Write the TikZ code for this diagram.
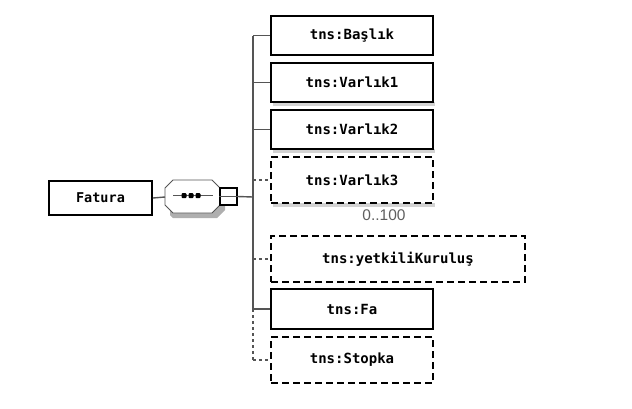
\documentclass[tikz,border=0pt]{standalone}
\usepackage{fontspec}
\setmonofont{DejaVu Sans Mono}
\setsansfont{Liberation Sans}
\definecolor{conn}{RGB}{85,85,85}
\definecolor{shad}{RGB}{175,175,175}
\definecolor{lbl}{RGB}{95,95,95}
\begin{document}
\begin{tikzpicture}[x=1pt,y=-1pt,
  elem/.style={draw=black,line width=1.8pt,fill=white,minimum width=162pt,minimum height=39pt,inner sep=0pt,
     font=\fontsize{14}{16}\selectfont\ttfamily\bfseries},
  optelem/.style={elem,dash pattern=on 7pt off 4pt},
  conline/.style={draw=conn,line width=1.4pt},
  optline/.style={draw=conn,line width=1.1pt,dash pattern=on 3pt off 3pt},
  dotsq/.style={fill=black,minimum size=5pt,inner sep=0pt,rounded corners=1pt}
]
\useasboundingbox (0,0) rectangle (632,408);

% shadows under some elements
\fill[shad!55] (273,102) rectangle (435,105.5);
\fill[shad!55] (273,149) rectangle (435,152.5);
\fill[shad!55] (273,203) rectangle (435,206.5);

% root element
\node[elem,minimum width=103pt,minimum height=34pt,font=\fontsize{13.5}{15}\selectfont\ttfamily\bfseries] (fatura) at (100.5,198) {Fatura};

% sequence compositor (octagon with shadow)
\fill[shad] (173,185) -- (217,185) -- (225,193) -- (225,210) -- (217,218) -- (173,218) -- (170,215) -- (170,193) -- cycle;
\draw[draw=conn,line width=0.9pt,fill=white] (173,180) -- (212,180) -- (220,188) -- (220,205) -- (212,213) -- (173,213) -- (165,205) -- (165,188) -- cycle;
\coordinate (seqw) at (165,197);
\draw[draw=conn,line width=0.9pt] (173,195.5) -- (213,195.5);
\node[dotsq] (d1) at (184,195.5) {};
\node[dotsq] (d2) at (191,195.5) {};
\node[dotsq] (d3) at (198,195.5) {};
\node[draw=black,line width=1.3pt,fill=white,minimum size=17pt,inner sep=0pt] (sq) at (228.5,196.5) {};

% children
\node[elem] (baslik) at (352,35.5) {tns:Başlık};
\node[elem] (varlik1) at (352,82.5) {tns:Varlık1};
\node[elem] (varlik2) at (352,129.5) {tns:Varlık2};
\node[optelem,minimum height=46pt] (varlik3) at (352,180) {tns:Varlık3};
\node[font=\fontsize{15.5}{17}\selectfont\sffamily,text=lbl,inner sep=0pt] (mult) at (384,215) {0..100};
\node[optelem,minimum width=254pt,minimum height=46pt] (yetkili) at (398,259) {tns:yetkiliKuruluş};
\node[elem,minimum height=40pt] (fa) at (352,309) {tns:Fa};
\node[optelem,minimum height=46pt] (stopka) at (352,360) {tns:Stopka};

% connectors
\coordinate (bus) at (253,197);
\draw[conline] (fatura.east) -- (seqw);
\draw[conline] (sq.east) -- (bus);
\draw[conline] (sq.west) -- (sq.east);
\draw[conline] (bus |- baslik.west) -- (bus |- fa.west);
\draw[optline] (bus |- fa.west) -- (bus |- stopka.west);
\draw[conline] (bus |- baslik.west) -- (baslik.west);
\draw[conline] (bus |- varlik1.west) -- (varlik1.west);
\draw[conline] (bus |- varlik2.west) -- (varlik2.west);
\draw[optline] (bus |- varlik3.west) -- (varlik3.west);
\draw[optline] (bus |- yetkili.west) -- (yetkili.west);
\draw[conline] (bus |- fa.west) -- (fa.west);
\draw[optline] (bus |- stopka.west) -- (stopka.west);
\end{tikzpicture}
\end{document}
